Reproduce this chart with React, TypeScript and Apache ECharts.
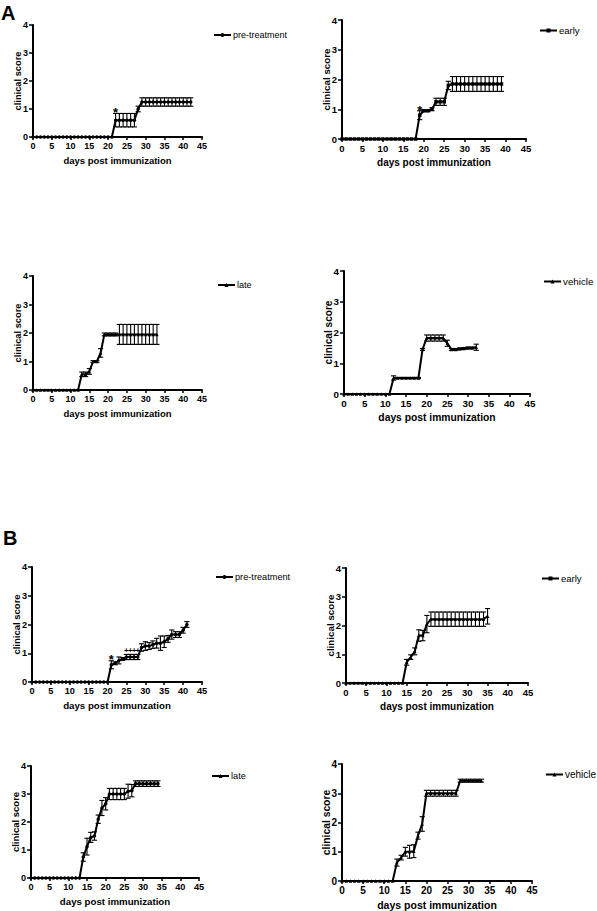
import React, { useEffect, useRef } from "react";
import * as echarts from "echarts";

const FONT = 'Arial, "Liberation Sans", Helvetica, sans-serif';

// ---------- DATA (mean clinical score per day, index = day) ----------
const panelLetters = ["A", "B"];
const seriesNames = ["pre-treatment", "early", "late", "vehicle", "pre-treatment", "early", "late", "vehicle"];
const xTitles = [
  "days post immunization", "days post immunization", "days post immunization", "days post immunization",
  "days post immunzation", "days post immunization", "days post immunization", "days post immunization",
];
const yTitle = "clinical score";

const a1Mean = [
  0, 0, 0, 0, 0, 0, 0, 0, 0, 0,
  0, 0, 0, 0, 0, 0, 0, 0, 0, 0,
  0, 0, 0.6, 0.6, 0.6, 0.6, 0.6, 0.6, 1.0, 1.25,
  1.25, 1.25, 1.25, 1.25, 1.25, 1.25, 1.25, 1.25, 1.25, 1.25,
  1.25, 1.25, 1.25,
];
const a1Sem = [
  0, 0, 0, 0, 0, 0, 0, 0, 0, 0,
  0, 0, 0, 0, 0, 0, 0, 0, 0, 0,
  0, 0, 0.24, 0.24, 0.24, 0.24, 0.24, 0.24, 0.1, 0.15,
  0.15, 0.15, 0.15, 0.15, 0.15, 0.15, 0.15, 0.15, 0.15, 0.15,
  0.15, 0.15, 0.15,
];

const a2Mean = [
  0, 0, 0, 0, 0, 0, 0, 0, 0, 0,
  0, 0, 0, 0, 0, 0, 0, 0, 0, 0.8,
  0.95, 0.95, 1.0, 1.25, 1.25, 1.25, 1.8, 1.85, 1.85, 1.85,
  1.85, 1.85, 1.85, 1.85, 1.85, 1.85, 1.85, 1.85, 1.85, 1.85,
];
const a2Sem = [
  0, 0, 0, 0, 0, 0, 0, 0, 0, 0,
  0, 0, 0, 0, 0, 0, 0, 0, 0, 0.15,
  0.03, 0.03, 0.05, 0.12, 0.12, 0.12, 0.14, 0.25, 0.25, 0.25,
  0.25, 0.25, 0.25, 0.25, 0.25, 0.25, 0.25, 0.25, 0.25, 0.25,
];

const a3Mean = [
  0, 0, 0, 0, 0, 0, 0, 0, 0, 0,
  0, 0, 0, 0.55, 0.55, 0.65, 1.0, 1.0, 1.3, 1.95,
  1.95, 1.95, 1.95, 1.95, 1.95, 1.95, 1.95, 1.95, 1.95, 1.95,
  1.95, 1.95, 1.95, 1.95,
];
const a3Sem = [
  0, 0, 0, 0, 0, 0, 0, 0, 0, 0,
  0, 0, 0, 0.08, 0.08, 0.1, 0.03, 0.03, 0.15, 0.05,
  0.05, 0.05, 0.05, 0.35, 0.35, 0.35, 0.35, 0.35, 0.35, 0.35,
  0.35, 0.35, 0.35, 0.35,
];

const a4Mean = [
  0, 0, 0, 0, 0, 0, 0, 0, 0, 0,
  0, 0, 0.52, 0.52, 0.52, 0.52, 0.52, 0.52, 0.52, 1.45,
  1.82, 1.82, 1.82, 1.82, 1.82, 1.65, 1.45, 1.45, 1.47, 1.48,
  1.5, 1.5, 1.52,
];
const a4Sem = [
  0, 0, 0, 0, 0, 0, 0, 0, 0, 0,
  0, 0, 0.07, 0.02, 0.02, 0.02, 0.02, 0.02, 0.02, 0.03,
  0.1, 0.1, 0.1, 0.1, 0.1, 0.1, 0.03, 0.03, 0.03, 0.03,
  0.03, 0.03, 0.1,
];

const b1Mean = [
  0, 0, 0, 0, 0, 0, 0, 0, 0, 0,
  0, 0, 0, 0, 0, 0, 0, 0, 0, 0,
  0, 0.6, 0.65, 0.75, 0.8, 0.87, 0.87, 0.87, 0.87, 1.2,
  1.25, 1.25, 1.3, 1.35, 1.35, 1.4, 1.5, 1.65, 1.65, 1.65,
  1.8, 2.0,
];
const b1Sem = [
  0, 0, 0, 0, 0, 0, 0, 0, 0, 0,
  0, 0, 0, 0, 0, 0, 0, 0, 0, 0,
  0, 0.14, 0.05, 0.12, 0.05, 0.09, 0.09, 0.09, 0.09, 0.13,
  0.15, 0.12, 0.13, 0.17, 0.25, 0.2, 0.12, 0.16, 0.1, 0.1,
  0.1, 0.1,
];

const b2Mean = [
  0, 0, 0, 0, 0, 0, 0, 0, 0, 0,
  0, 0, 0, 0, 0, 0.72, 0.9, 1.1, 1.65, 1.65,
  2.05, 2.22, 2.22, 2.22, 2.22, 2.22, 2.22, 2.22, 2.22, 2.22,
  2.22, 2.22, 2.22, 2.22, 2.22, 2.32,
];
const b2Sem = [
  0, 0, 0, 0, 0, 0, 0, 0, 0, 0,
  0, 0, 0, 0, 0, 0.1, 0.08, 0.12, 0.2, 0.18,
  0.3, 0.25, 0.25, 0.25, 0.25, 0.25, 0.25, 0.25, 0.25, 0.25,
  0.25, 0.25, 0.25, 0.25, 0.25, 0.27,
];

const b3Mean = [
  0, 0, 0, 0, 0, 0, 0, 0, 0, 0,
  0, 0, 0, 0, 0.75, 1.12, 1.45, 1.5, 2.1, 2.5,
  2.65, 3.0, 3.0, 3.0, 3.0, 3.0, 3.1, 3.12, 3.37, 3.37,
  3.37, 3.37, 3.37, 3.37, 3.37,
];
const b3Sem = [
  0, 0, 0, 0, 0, 0, 0, 0, 0, 0,
  0, 0, 0, 0, 0.15, 0.3, 0.18, 0.15, 0.15, 0.27,
  0.22, 0.2, 0.2, 0.2, 0.2, 0.2, 0.25, 0.22, 0.1, 0.1,
  0.1, 0.1, 0.1, 0.1, 0.1,
];

const b4Mean = [
  0, 0, 0, 0, 0, 0, 0, 0, 0, 0,
  0, 0, 0, 0.63, 0.8, 1.0, 1.0, 1.02, 1.55, 1.95,
  3.0, 3.0, 3.0, 3.0, 3.0, 3.0, 3.0, 3.0, 3.43, 3.43,
  3.43, 3.43, 3.43, 3.43,
];
const b4Sem = [
  0, 0, 0, 0, 0, 0, 0, 0, 0, 0,
  0, 0, 0, 0.12, 0.08, 0.15, 0.22, 0.22, 0.12, 0.25,
  0.1, 0.1, 0.1, 0.1, 0.1, 0.1, 0.1, 0.1, 0.05, 0.05,
  0.05, 0.05, 0.05, 0.05,
];

// significance marks: [day, score]
const a1Stars = [[22, 0.97]];
const a2Stars = [[19, 1.05]];
const b1Stars = [[21, 0.9]];
const b1Plus = [[25, 1.1], [26, 1.1], [27, 1.1], [28, 1.1]];

// ---------- LAYOUT ----------
const means = [a1Mean, a2Mean, a3Mean, a4Mean, b1Mean, b2Mean, b3Mean, b4Mean];
const sems = [a1Sem, a2Sem, a3Sem, a4Sem, b1Sem, b2Sem, b3Sem, b4Sem];
const grids = [
  { left: 33, top: 25, width: 169, height: 112 },
  { left: 342, top: 20, width: 184, height: 119 },
  { left: 33, top: 276, width: 169, height: 114 },
  { left: 344, top: 271, width: 186, height: 123 },
  { left: 32, top: 567, width: 170, height: 115 },
  { left: 346, top: 568, width: 182, height: 115 },
  { left: 31, top: 766, width: 168, height: 112 },
  { left: 342, top: 764, width: 190, height: 118 },
];
const legendPos = [
  [213, 33], [539, 28], [217, 283], [543, 279],
  [215, 575], [541, 576], [211, 774], [545, 772],
];
const fontSizes = [9, 9.5, 9, 9.8, 9.2, 9.5, 9.2, 10];
const symbols = ["circle", "rect", "triangle", "triangle", "circle", "triangle", "circle", "triangle"];

function errRender(params: any, api: any) {
  const x = api.value(0);
  const lo = api.coord([x, api.value(1)]);
  const hi = api.coord([x, api.value(2)]);
  const w = 2.6;
  const style = { stroke: "#000", lineWidth: 1.1, fill: null };
  return {
    type: "group",
    children: [
      { type: "line", shape: { x1: lo[0], y1: lo[1], x2: hi[0], y2: hi[1] }, style },
      { type: "line", shape: { x1: lo[0] - w, y1: lo[1], x2: lo[0] + w, y2: lo[1] }, style },
      { type: "line", shape: { x1: hi[0] - w, y1: hi[1], x2: hi[0] + w, y2: hi[1] }, style },
    ],
  };
}

function markSeries(idx: number, pts: number[][], text: string, size: number, dy: number) {
  return {
    type: "custom",
    name: "mark" + idx + text,
    xAxisIndex: idx,
    yAxisIndex: idx,
    coordinateSystem: "cartesian2d",
    data: pts,
    z: 5,
    renderItem: (params: any, api: any) => {
      const p = api.coord([api.value(0), api.value(1)]);
      return {
        type: "text",
        x: p[0],
        y: p[1] + dy,
        style: {
          text,
          fontSize: size,
          fontWeight: "bold",
          fontFamily: FONT,
          fill: "#000",
          align: "center",
          verticalAlign: "middle",
        },
      };
    },
  };
}

export default function App() {
  const ref = useRef<HTMLDivElement>(null);
  useEffect(() => {
    if (!ref.current) return;
    const chart = echarts.init(ref.current, undefined, { renderer: "svg" });
    const xAxis: any[] = [];
    const yAxis: any[] = [];
    const series: any[] = [];
    const legend: any[] = [];
    grids.forEach((g, i) => {
      const fs = fontSizes[i];
      xAxis.push({
        gridIndex: i,
        type: "value",
        min: 0,
        max: 45,
        interval: 5,
        axisLine: { show: true, onZero: false, lineStyle: { color: "#000", width: 2 } },
        axisTick: { show: true, length: 3, lineStyle: { color: "#000", width: 1.5 } },
        axisLabel: { fontSize: fs, fontWeight: "bold", color: "#000", margin: 4, fontFamily: FONT },
        splitLine: { show: false },
        name: xTitles[i],
        nameLocation: "middle",
        nameGap: 18,
        nameMoveOverlap: false,
        nameTextStyle: { fontSize: fs + 0.5, fontWeight: "bold", color: "#000", fontFamily: FONT },
      });
      yAxis.push({
        gridIndex: i,
        type: "value",
        min: 0,
        max: 4,
        interval: 1,
        axisLine: { show: true, lineStyle: { color: "#000", width: 2 } },
        axisTick: { show: true, length: 4, lineStyle: { color: "#000", width: 1.5 } },
        axisLabel: { fontSize: fs, fontWeight: "bold", color: "#000", margin: 5, fontFamily: FONT },
        splitLine: { show: false },
        name: yTitle,
        nameLocation: "middle",
        nameGap: 11,
        nameMoveOverlap: false,
        nameTextStyle: { fontSize: fs + 0.3, fontWeight: "bold", color: "#000", fontFamily: FONT },
      });
      const mean = means[i];
      const sem = sems[i];
      series.push({
        type: "line",
        name: seriesNames[i],
        xAxisIndex: i,
        yAxisIndex: i,
        data: mean.map((v, d) => [d, v]),
        symbol: symbols[i],
        symbolSize: 3.5,
        showSymbol: true,
        lineStyle: { color: "#000", width: 2 },
        itemStyle: { color: "#000" },
        z: 3,
      });
      series.push({
        type: "custom",
        name: "err" + i,
        xAxisIndex: i,
        yAxisIndex: i,
        coordinateSystem: "cartesian2d",
        encode: { x: 0, y: [1, 2] },
        data: mean
          .map((v, d) => [d, v - sem[d], v + sem[d], sem[d]])
          .filter((r) => r[3] > 0)
          .map((r) => [r[0], r[1], r[2]]),
        renderItem: errRender,
        z: 4,
      });
      legend.push({
        data: [{ name: seriesNames[i] }],
        left: legendPos[i][0],
        top: legendPos[i][1] - 2.5,
        padding: 0,
        itemWidth: 17,
        itemHeight: 5,
        itemGap: 0,
        selectedMode: false,
        textStyle: { fontSize: fs, color: "#000", fontFamily: FONT, padding: [0, 0, 0, -3] },
      });
    });
    series.push(markSeries(0, a1Stars, "*", 13, 3));
    series.push(markSeries(1, a2Stars, "*", 13, 3));
    series.push(markSeries(4, b1Stars, "*", 13, 3));
    series.push(markSeries(4, b1Plus, "+", 8, 0));

    chart.setOption({
      animation: false,
      backgroundColor: "#fff",
      grid: grids.map((g) => ({ ...g, containLabel: false })),
      xAxis,
      yAxis,
      legend,
      series,
      graphic: [
        { type: "text", left: 1, top: 3, style: { text: panelLetters[0], fontSize: 20, fontWeight: "bold", fill: "#000", fontFamily: FONT } },
        { type: "text", left: 3, top: 528, style: { text: panelLetters[1], fontSize: 20, fontWeight: "bold", fill: "#000", fontFamily: FONT } },
      ],
    });
    return () => chart.dispose();
  }, []);
  return (
    <div
      ref={ref}
      style={{ position: "fixed", left: 0, top: 0, width: 597, height: 911, background: "#fff" }}
    />
  );
}
